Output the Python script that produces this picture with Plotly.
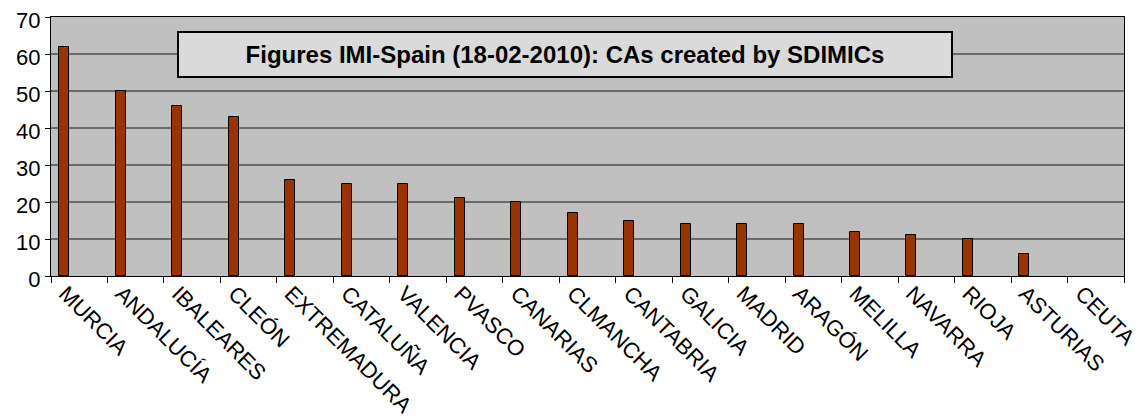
import plotly.graph_objects as go

regions = ["MURCIA", "ANDALUCÍA", "IBALEARES", "CLEÓN", "EXTREMADURA", "CATALUÑA",
           "VALENCIA", "PVASCO", "CANARIAS", "CLMANCHA", "CANTABRIA", "GALICIA",
           "MADRID", "ARAGÓN", "MELILLA", "NAVARRA", "RIOJA", "ASTURIAS", "CEUTA"]
cas_created = [62, 50, 46, 43, 26, 25, 25, 21, 20, 17, 15, 14, 14, 14, 12, 11, 10, 6, 0]
y_ticks = [0, 10, 20, 30, 40, 50, 60, 70]
title_text = "Figures IMI-Spain (18-02-2010): CAs created by SDIMICs"

FONT = "Arial, Liberation Sans, sans-serif"

fig = go.Figure()
fig.add_trace(go.Bar(
    x=regions, y=cas_created,
    marker=dict(color="#993300",
                line=dict(color="#000000", width=[1 if v > 0 else 0 for v in cas_created])),
    width=0.177, offset=-0.352,
    showlegend=False,
))

# page body has an 8px margin: figure is 1138x411 placed at (8, 8)
fig.update_layout(
    width=1138, height=411,
    margin=dict(l=42.5, r=21.7, t=8.5, b=143.3, autoexpand=False),
    paper_bgcolor="white",
    plot_bgcolor="#C0C0C0",
    font=dict(family=FONT, size=22, color="black"),
    bargap=0,
)
fig.update_xaxes(
    type="category",
    tickangle=45,
    ticks="outside", tickson="boundaries", ticklen=6, tickcolor="black", tickwidth=1,
    ticklabelshift=-14, ticklabelstandoff=-5,
    ticklabeloverflow="allow",
    showline=True, linecolor="black", linewidth=1, mirror=True,
    showgrid=False,
    tickfont=dict(family=FONT, size=22, color="black"),
)
fig.update_yaxes(
    range=[0, 70], tickvals=y_ticks,
    ticks="outside", ticklen=5, tickcolor="black", tickwidth=1,
    ticklabelshift=3,
    ticklabeloverflow="allow",
    showline=True, linecolor="black", linewidth=1, mirror=True,
    showgrid=True, gridcolor="#6a6a6a", gridwidth=1.5,
    zeroline=False,
    tickfont=dict(family=FONT, size=22, color="black"),
)

fig.add_annotation(
    xref="paper", yref="paper", x=0.4789, y=0.8546,
    xanchor="center", yanchor="middle",
    text="<b>" + title_text + "</b>",
    showarrow=False,
    font=dict(family=FONT, size=24, color="black"),
    bgcolor="#DADADA", bordercolor="black", borderwidth=2, borderpad=1,
    width=770, height=41,
)

fig.write_html("out.html")
